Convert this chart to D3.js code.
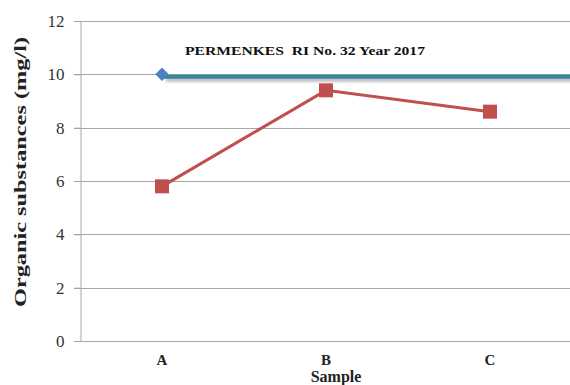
<!DOCTYPE html>
<html><head><meta charset="utf-8">
<script src="https://cdn.jsdelivr.net/npm/d3@7"></script>
<style>body{margin:0;background:#fff;}svg{display:block;}</style>
</head><body>
<svg id="chart" width="570" height="385"></svg>
<script>
const categories = ["A","B","C"];
const sampleValues = [5.8, 9.4, 8.6];
const standardValues = [10];
const standardLabel = "PERMENKES  RI No. 32 Year 2017";
const yTicks = [0,2,4,6,8,10,12];
const xTitle = "Sample";
const yTitle = "Organic substances (mg/l)";

const svg = d3.select("#chart");
const m = {left:80, right:-2, top:21, bottom:44};
const W = 570, H = 385;
const x = d3.scaleBand().domain(categories).range([m.left, W - m.right]);
const xc = d => x(d) + x.bandwidth()/2;
const y = d3.scaleLinear().domain([0,12]).range([H - m.bottom, m.top]);

const defs = svg.append("defs");
const f = defs.append("filter").attr("id","sh").attr("filterUnits","userSpaceOnUse")
  .attr("x",0).attr("y",0).attr("width",W).attr("height",H);
f.append("feGaussianBlur").attr("stdDeviation",1.8);

const serif = "'Liberation Serif','DejaVu Serif',serif";

// gridlines
svg.append("g").selectAll("line").data(yTicks).join("line")
  .attr("x1", m.left - 6).attr("x2", W)
  .attr("y1", d => Math.round(y(d))+0.5).attr("y2", d => Math.round(y(d))+0.5)
  .attr("stroke", "#a6a6a6").attr("stroke-width", 1);

// y axis
const yAxis = svg.append("g").attr("transform", `translate(${m.left+0.5},0)`)
  .call(d3.axisLeft(y).tickValues(yTicks).tickSize(6).tickPadding(10));
yAxis.attr("font-family", serif);
yAxis.select(".domain").attr("stroke","#a6a6a6");
yAxis.selectAll(".tick line").attr("stroke","#a6a6a6");
yAxis.selectAll("text").attr("font-family", serif).attr("font-size", 17).attr("fill","#333");

// x axis
const xAxis = svg.append("g").attr("transform", `translate(0,${Math.round(y(0))+0.5})`)
  .call(d3.axisBottom(x).tickSize(0).tickPadding(13));
xAxis.attr("font-family", serif);
xAxis.select(".domain").remove();
xAxis.selectAll("text").attr("font-family", serif).attr("font-size", 15).attr("font-weight","bold").attr("fill","#222");

// standard line
const stdY = y(standardValues[0]);
svg.append("line")
  .attr("x1", xc(categories[0]) + 4).attr("x2", W + 5)
  .attr("y1", stdY + 5.5).attr("y2", stdY + 5.5)
  .attr("stroke", "#888").attr("stroke-opacity",0.6).attr("stroke-width", 4).attr("filter","url(#sh)");
svg.append("line")
  .attr("x1", xc(categories[0])).attr("x2", W + 5)
  .attr("y1", stdY + 2.5).attr("y2", stdY + 2.5)
  .attr("stroke", "#31859c").attr("stroke-width", 4);
svg.append("path")
  .attr("d", d3.symbol(d3.symbolSquare, 92)())
  .attr("transform", `translate(${xc(categories[0])},${stdY}) rotate(45)`)
  .attr("fill", "#4f81bd");

// sample line
const line = d3.line().x((d,i) => xc(categories[i])).y(d => y(d));
svg.append("path").datum(sampleValues).attr("d", line)
  .attr("fill","none").attr("stroke","#c0504d").attr("stroke-width",3);
svg.append("g").selectAll("rect").data(sampleValues).join("rect")
  .attr("x", (d,i) => xc(categories[i]) - 7).attr("y", d => y(d) - 7)
  .attr("width", 14).attr("height", 14).attr("fill","#c0504d");

// annotation
svg.append("text").attr("x", 185).attr("y", 55).text(standardLabel)
  .attr("font-family", serif).attr("font-weight","bold").attr("font-size", 13)
  .attr("textLength", 240).attr("lengthAdjust","spacingAndGlyphs").attr("fill","#111")
  .style("white-space","pre");

// axis titles
svg.append("text").attr("x", 336).attr("y", 382).attr("text-anchor","middle")
  .attr("font-family", serif).attr("font-weight","bold").attr("font-size", 16).attr("fill","#222").text(xTitle);
svg.append("text").attr("transform","translate(26,172) rotate(-90)").attr("text-anchor","middle")
  .attr("font-family", serif).attr("font-weight","bold").attr("font-size", 17).attr("fill","#222")
  .attr("textLength", 270).attr("lengthAdjust","spacingAndGlyphs").text(yTitle);
</script>
</body></html>
